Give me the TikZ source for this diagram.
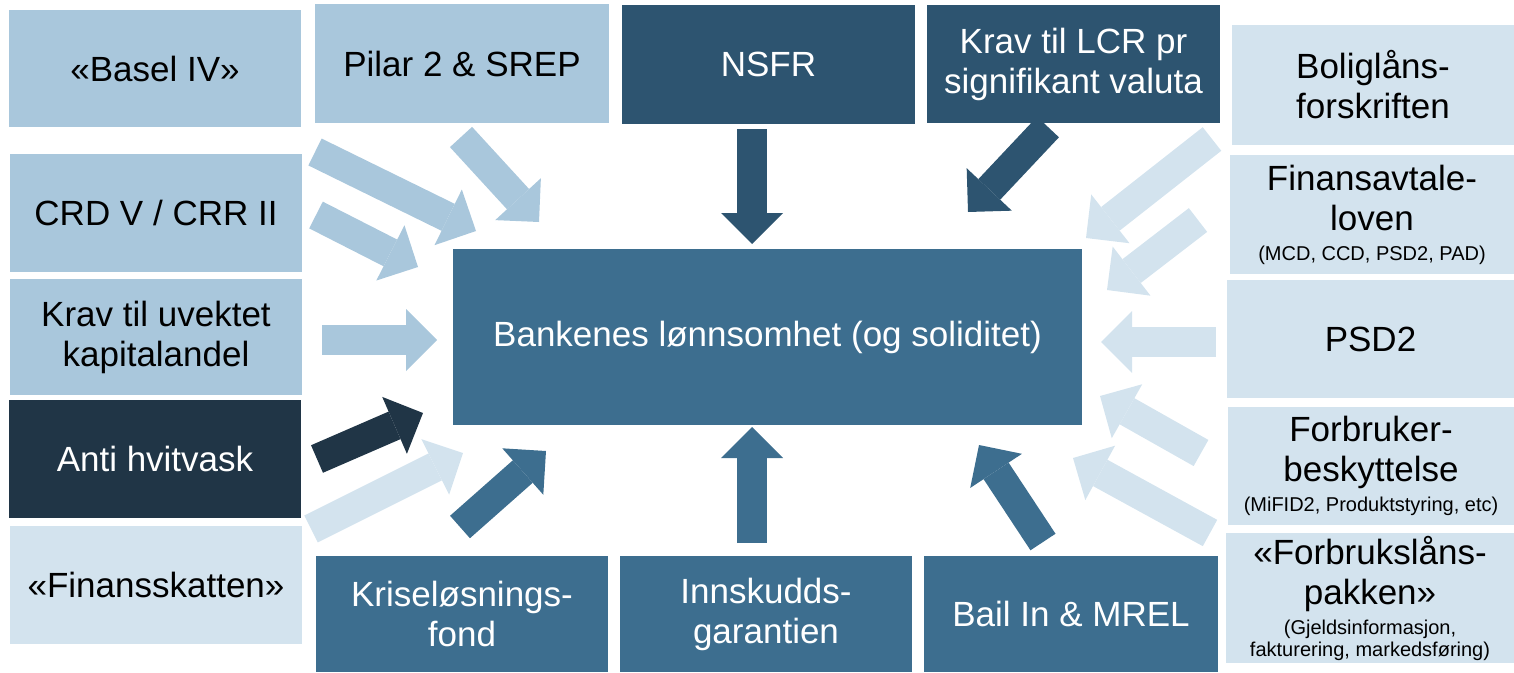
\documentclass[tikz,border=0pt]{standalone}
\usepackage{fontspec}
\setmainfont{Liberation Sans}
\usetikzlibrary{arrows.meta}
\definecolor{lightblue}{HTML}{A9C7DC}
\definecolor{paleblue}{HTML}{D3E3EE}
\definecolor{midblue}{HTML}{3D6E8F}
\definecolor{darkblue}{HTML}{2D5470}
\definecolor{navyblue}{HTML}{203546}
\newcommand{\smallfnt}{\fontsize{20}{22}\selectfont}
\begin{document}
\begin{tikzpicture}[x=1pt,y=-1pt,font=\fontsize{35}{40}\selectfont]
		\tikzset{box/.style={inner sep=0pt, align=center, minimum width=292pt, minimum height=118pt}}
		\tikzset{blockarrow/.style={line width=30pt, -{Triangle[length=31pt,width=62pt,line width=0pt]}}}
		\useasboundingbox (0,0) rectangle (1514,672);
		% centre
		\node[box, fill=midblue, text=white, minimum width=629pt, minimum height=176pt] (bank) at (767.5,337) {Bankenes lønnsomhet (og soliditet)};
		% left column
		\node[box, fill=lightblue, minimum height=117pt] (basel) at (155,68.5) {«Basel IV»};
		\node[box, fill=lightblue] (crd) at (156,213) {CRD V / CRR II};
		\node[box, fill=lightblue, minimum height=116pt] (uvektet) at (156,337) {Krav til uvektet\\kapitalandel};
		\node[box, fill=navyblue, text=white] (hvitvask) at (155,459) {Anti hvitvask};
		\node[box, fill=paleblue] (skatt) at (156,585) {«Finansskatten»};
		% top row
		\node[box, fill=lightblue, minimum width=294pt, minimum height=119pt] (pilar) at (462,63.5) {Pilar 2 \& SREP};
		\node[box, fill=darkblue, text=white, minimum width=293pt, minimum height=119pt] (nsfr) at (768.5,64.5) {NSFR};
		\node[box, fill=darkblue, text=white, minimum width=293pt] (lcr) at (1073.5,64) {Krav til LCR pr\\signifikant valuta};
		% right column
		\node[box, fill=paleblue, minimum width=282pt, minimum height=120pt] (bolig) at (1373,85) {Boliglåns-\\forskriften};
		\node[box, fill=paleblue, minimum width=284pt, minimum height=119pt] (finans) at (1372,214.5) {Finansavtale-\\loven\\[-10pt]{\smallfnt (MCD, CCD, PSD2, PAD)}};
		\node[box, fill=paleblue, minimum width=287pt] (psd) at (1370.5,339) {PSD2};
		\node[box, fill=paleblue, minimum width=286pt] (forbruker) at (1371,466) {Forbruker-\\beskyttelse\\[-10pt]{\smallfnt (MiFID2, Produktstyring, etc)}};
		\node[box, fill=paleblue, minimum width=288pt, minimum height=130pt] (forbrukslan) at (1370,598) {«Forbrukslåns-\\pakken»\\[-10pt]{\smallfnt (Gjeldsinformasjon,}\\[-18pt]{\smallfnt fakturering, markedsføring)}};
		% bottom row
		\node[box, fill=midblue, text=white, minimum height=116pt] (krise) at (462,614) {Kriseløsnings-\\fond};
		\node[box, fill=midblue, text=white, minimum height=116pt] (innskudd) at (766,614) {Innskudds-\\garantien};
		\node[box, fill=midblue, text=white, minimum width=294pt, minimum height=116pt] (bail) at (1071,614) {Bail In \& MREL};
		% arrow ends
		\coordinate (baselT) at (315,152); \coordinate (baselH) at (476,231);
		\coordinate (pilarT) at (461,137); \coordinate (pilarH) at (539,222);
		\coordinate (crdT) at (316,215); \coordinate (crdH) at (418,267);
		\coordinate (uvektetT) at (322,340); \coordinate (uvektetH) at (437,340);
		\coordinate (hvitvaskT) at (317,459); \coordinate (hvitvaskH) at (423,413);
		\coordinate (skattT) at (311,529); \coordinate (skattH) at (463,453);
		\coordinate (kriseT) at (460,527); \coordinate (kriseH) at (546,451);
		\coordinate (innskuddT) at (752,543); \coordinate (innskuddH) at (752,427);
		\coordinate (bailT) at (1043,542); \coordinate (bailH) at (979,445);
		\coordinate (forbrukslanT) at (1210,533); \coordinate (forbrukslanH) at (1073,458);
		\coordinate (forbrukerT) at (1201,453); \coordinate (forbrukerH) at (1100,396);
		\coordinate (psdT) at (1216,342); \coordinate (psdH) at (1101,342);
		\coordinate (finansT) at (1198,220); \coordinate (finansH) at (1107,290);
		\coordinate (boligT) at (1212,139); \coordinate (boligH) at (1086,238);
		\coordinate (lcrT) at (1048,127); \coordinate (lcrH) at (968,212);
		\coordinate (nsfrT) at (752,129); \coordinate (nsfrH) at (752,244);
		% arrows
		\draw[blockarrow, lightblue] (baselT) -- (baselH);
		\draw[blockarrow, lightblue] (pilarT) -- (pilarH);
		\draw[blockarrow, lightblue] (crdT) -- (crdH);
		\draw[blockarrow, lightblue] (uvektetT) -- (uvektetH);
		\draw[blockarrow, navyblue] (hvitvaskT) -- (hvitvaskH);
		\draw[blockarrow, paleblue] (skattT) -- (skattH);
		\draw[blockarrow, midblue] (kriseT) -- (kriseH);
		\draw[blockarrow, midblue] (innskuddT) -- (innskuddH);
		\draw[blockarrow, midblue] (bailT) -- (bailH);
		\draw[blockarrow, paleblue] (forbrukslanT) -- (forbrukslanH);
		\draw[blockarrow, paleblue] (forbrukerT) -- (forbrukerH);
		\draw[blockarrow, paleblue] (psdT) -- (psdH);
		\draw[blockarrow, paleblue] (finansT) -- (finansH);
		\draw[blockarrow, paleblue] (boligT) -- (boligH);
		\draw[blockarrow, darkblue] (lcrT) -- (lcrH);
		\draw[blockarrow, darkblue] (nsfrT) -- (nsfrH);
\end{tikzpicture}
\end{document}
